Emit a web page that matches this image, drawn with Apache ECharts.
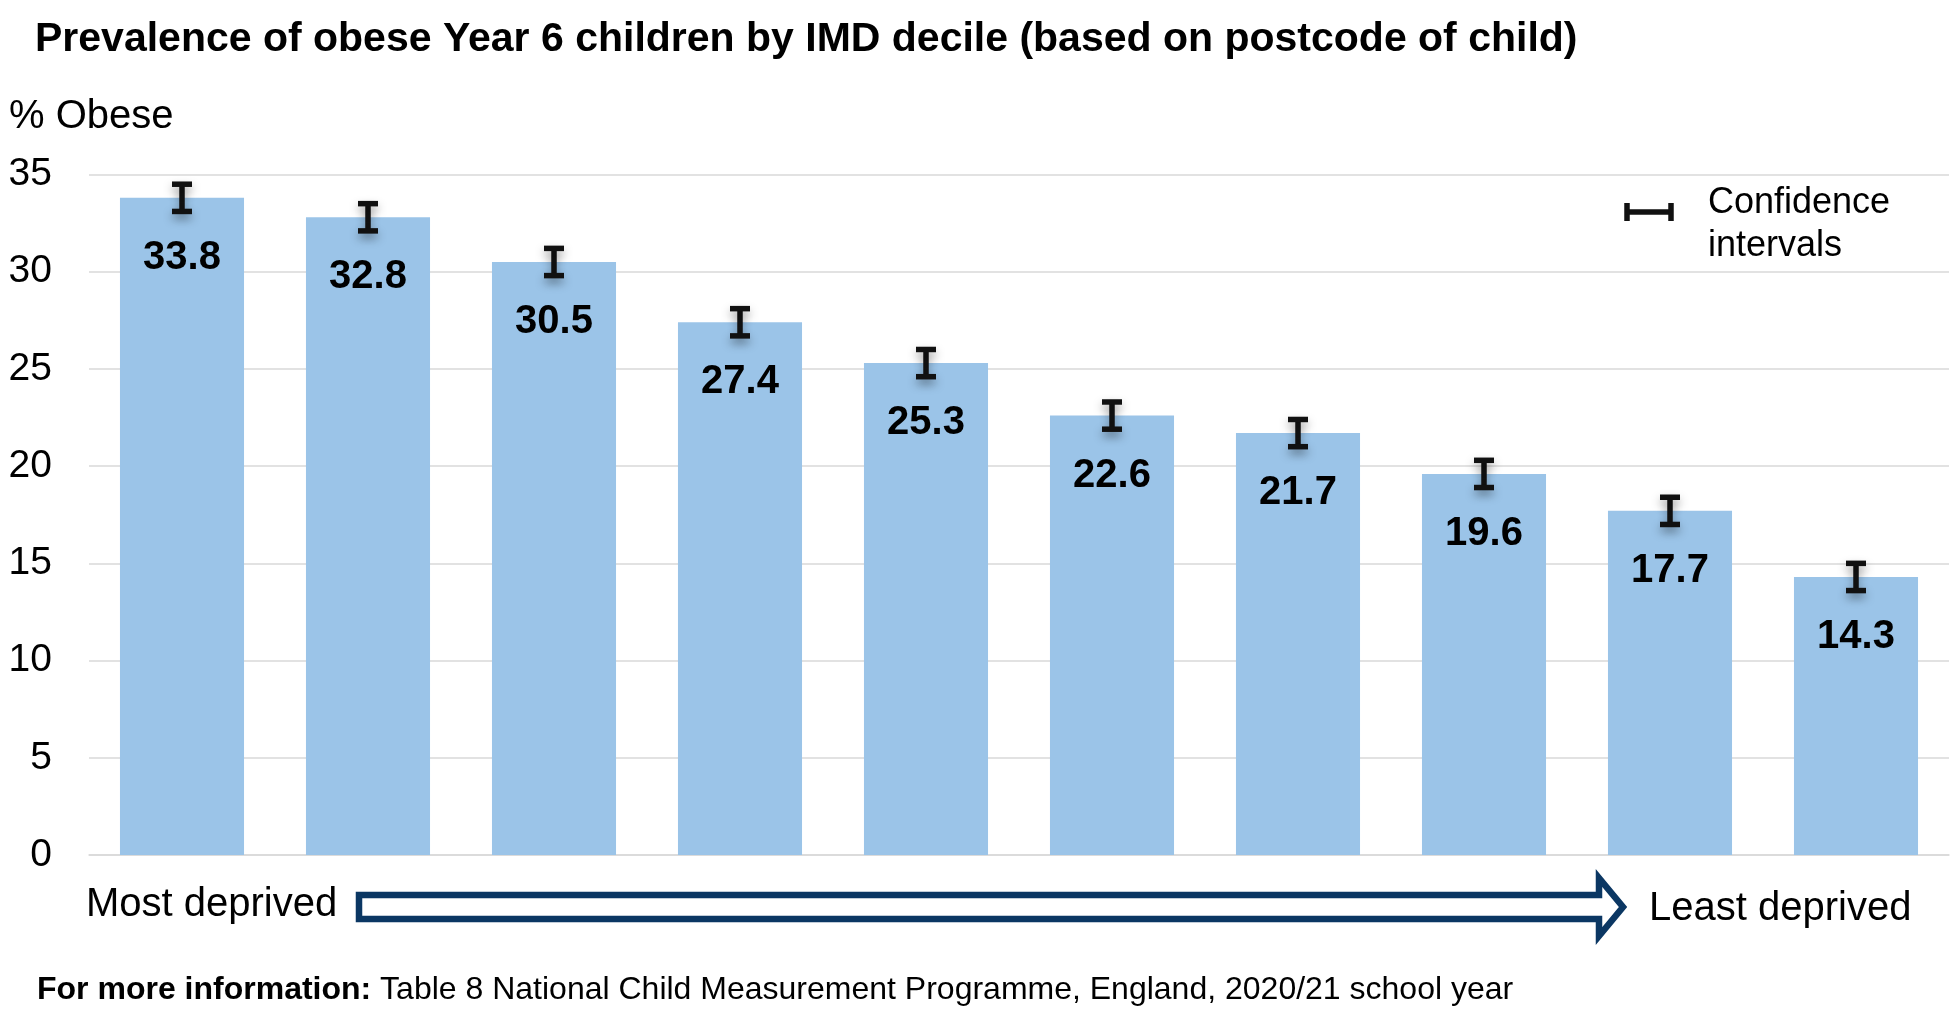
<!DOCTYPE html>
<html>
<head>
<meta charset="utf-8">
<script src="https://cdn.jsdelivr.net/npm/echarts@6/dist/echarts.min.js"></script>
<style>
  html, body { margin: 0; padding: 0; background: #fff; }
  #chart { width: 1954px; height: 1028px; }
</style>
</head>
<body>
<div id="chart"></div>
<script>
// IMD deciles, most deprived -> least deprived
const deciles = ['1', '2', '3', '4', '5', '6', '7', '8', '9', '10']
const obese = [33.8, 32.8, 30.5, 27.4, 25.3, 22.6, 21.7, 19.6, 17.7, 14.3]
const ciLower = [33.1, 32.1, 29.8, 26.7, 24.6, 21.9, 21.0, 18.9, 17.0, 13.6]
const ciUpper = [34.5, 33.5, 31.2, 28.1, 26.0, 23.3, 22.4, 20.3, 18.4, 15.0]
const yTicks = [0, 5, 10, 15, 20, 25, 30, 35]

const font = '"Liberation Sans", Arial, sans-serif'
const navy = '#0B3763'

const chart = echarts.init(document.getElementById('chart'))

const errorData = deciles.map((d, i) => [i, ciLower[i], ciUpper[i]])

const option = {
  animation: false,
  backgroundColor: '#fff',
  textStyle: { fontFamily: font },
  grid: { left: 89, right: 5, top: 174.5, bottom: 173, containLabel: false },
  xAxis: {
    type: 'category',
    data: deciles,
    axisLine: { show: true, lineStyle: { color: '#d9d9d9', width: 1.5 } },
    axisTick: { show: false },
    axisLabel: { show: false }
  },
  yAxis: {
    type: 'value',
    min: yTicks[0],
    max: yTicks[yTicks.length - 1],
    interval: 5,
    axisLine: { show: false },
    axisTick: { show: false },
    axisLabel: { fontSize: 39, color: '#000', fontFamily: font, margin: 37 },
    splitLine: { lineStyle: { color: '#d9d9d9', width: 1.5 } }
  },
  series: [
    {
      type: 'bar',
      data: obese,
      barCategoryGap: '33.3%',
      itemStyle: { color: '#9BC4E8' },
      label: {
        show: true,
        position: 'insideTop',
        distance: 40,
        fontSize: 40,
        lineHeight: 40,
        fontWeight: 'bold',
        color: '#000',
        fontFamily: font,
        formatter: p => p.value.toFixed(1)
      },
      z: 2
    },
    {
      type: 'custom',
      data: errorData,
      z: 5,
      renderItem: function (params, api) {
        const x = api.value(0)
        const lo = api.coord([x, api.value(1)])
        const hi = api.coord([x, api.value(2)])
        const half = 10
        const style = {
          stroke: '#111', lineWidth: 5.5,
          shadowBlur: 10, shadowColor: 'rgba(0,0,0,0.35)', shadowOffsetY: 5
        }
        return {
          type: 'group',
          children: [
            { type: 'line', shape: { x1: hi[0], y1: hi[1], x2: lo[0], y2: lo[1] }, style: style },
            { type: 'line', shape: { x1: hi[0] - half, y1: hi[1], x2: hi[0] + half, y2: hi[1] }, style: style },
            { type: 'line', shape: { x1: lo[0] - half, y1: lo[1], x2: lo[0] + half, y2: lo[1] }, style: style }
          ]
        }
      }
    }
  ],
  graphic: [
    {
      type: 'text', x: 35, y: 40,
      style: {
        text: 'Prevalence of obese Year 6 children by IMD decile (based on postcode of child)',
        font: 'bold 41px ' + font, fill: '#000', verticalAlign: 'middle'
      }
    },
    {
      type: 'text', x: 9, y: 117,
      style: { text: '% Obese', font: '40px ' + font, fill: '#000', verticalAlign: 'middle' }
    },
    // legend: confidence interval symbol
    {
      type: 'group', x: 1627, y: 212,
      children: [
        { type: 'line', shape: { x1: 0, y1: 0, x2: 44, y2: 0 }, style: { stroke: '#111', lineWidth: 5.5 } },
        { type: 'line', shape: { x1: 0, y1: -9, x2: 0, y2: 9 }, style: { stroke: '#111', lineWidth: 5.5 } },
        { type: 'line', shape: { x1: 44, y1: -9, x2: 44, y2: 9 }, style: { stroke: '#111', lineWidth: 5.5 } }
      ]
    },
    {
      type: 'text', x: 1708, y: 203,
      style: { text: 'Confidence', font: '36px ' + font, fill: '#000', verticalAlign: 'middle' }
    },
    {
      type: 'text', x: 1708, y: 246,
      style: { text: 'intervals', font: '36px ' + font, fill: '#000', verticalAlign: 'middle' }
    },
    // deprivation arrow
    {
      type: 'text', x: 86, y: 905,
      style: { text: 'Most deprived', font: '40px ' + font, fill: '#000', verticalAlign: 'middle' }
    },
    {
      type: 'polygon',
      shape: {
        points: [[359, 895], [1599, 895], [1599, 878], [1623, 907], [1599, 936], [1599, 919], [359, 919]]
      },
      style: { fill: '#fff', stroke: navy, lineWidth: 6.5, lineJoin: 'miter' }
    },
    {
      type: 'text', x: 1649, y: 908.5,
      style: { text: 'Least deprived', font: '40px ' + font, fill: '#000', verticalAlign: 'middle' }
    },
    {
      type: 'text', x: 37, y: 990,
      style: {
        text: '{b|For more information:} Table 8 National Child Measurement Programme, England, 2020/21 school year',
        font: '32px ' + font, fill: '#000', verticalAlign: 'middle',
        rich: { b: { fontWeight: 'bold', fontSize: 32, fontFamily: font, fill: '#000' } }
      }
    }
  ]
}

chart.setOption(option)
</script>
</body>
</html>
